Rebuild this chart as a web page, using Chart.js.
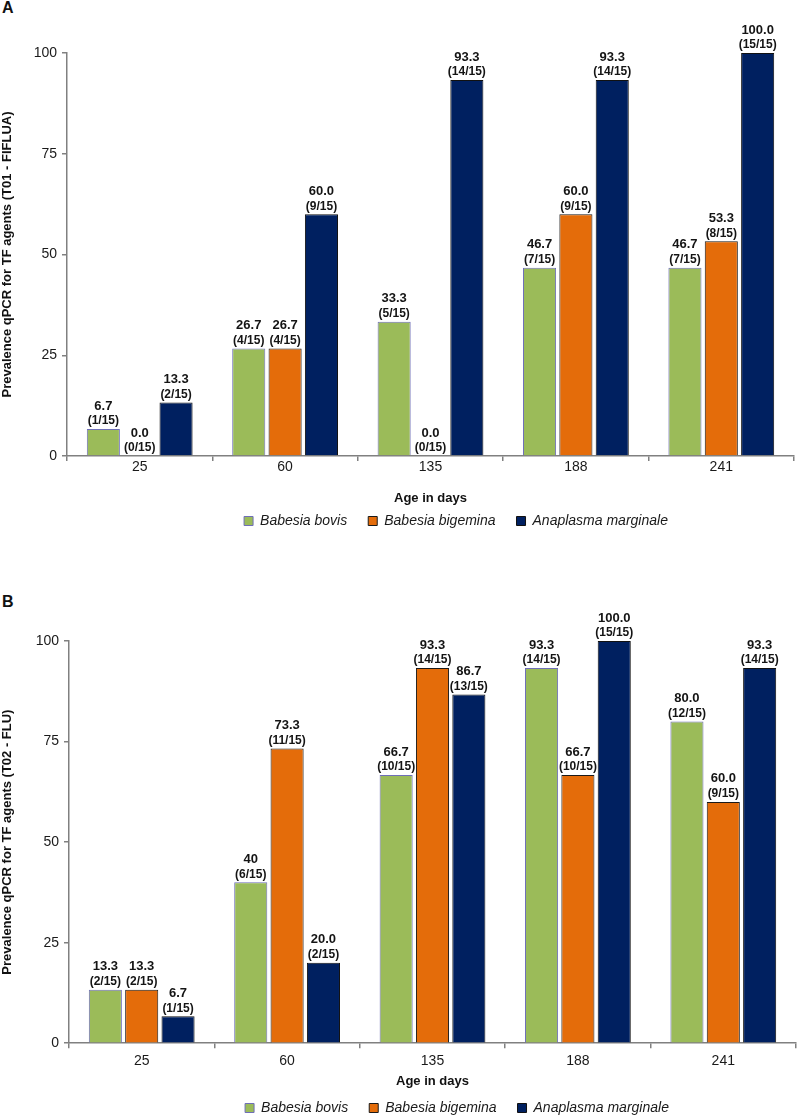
<!DOCTYPE html>
<html><head><meta charset="utf-8">
<script src="https://cdn.jsdelivr.net/npm/chart.js@4/dist/chart.umd.min.js"></script>
<style>
html,body{margin:0;padding:0;background:#fff}
body{width:797px;height:1115px;position:relative;overflow:hidden;font-family:"Liberation Sans",Arial,sans-serif}
.panel{position:absolute;left:0;width:797px}
.lbl{position:absolute;left:2px;font-weight:bold;font-size:16px;line-height:16px;color:#111}
</style></head><body>
<div class="lbl" style="top:0px">A</div>
<div class="panel" style="top:0;height:551px"><canvas id="cA"></canvas></div>
<div class="lbl" style="top:594px">B</div>
<div class="panel" style="top:575px;height:559px"><canvas id="cB"></canvas></div>
<script>
// ---- data ----
const categories = ['25', '60', '135', '188', '241'];
const seriesNames = ['Babesia bovis', 'Babesia bigemina', 'Anaplasma marginale'];
const TOTAL = 15;
const yTicks = [0, 25, 50, 75, 100];

// Panel A (T01 - FIFLUA)
const bovisA = [6.7, 26.7, 33.3, 46.7, 46.7];
const bigeminaA = [0.0, 26.7, 0.0, 60.0, 53.3];
const marginaleA = [13.3, 60.0, 93.3, 93.3, 100.0];
const bovisA_text = ['6.7', '26.7', '33.3', '46.7', '46.7'];
const bigeminaA_text = ['0.0', '26.7', '0.0', '60.0', '53.3'];
const marginaleA_text = ['13.3', '60.0', '93.3', '93.3', '100.0'];
const bovisA_pos = [1, 4, 5, 7, 7];
const bigeminaA_pos = [0, 4, 0, 9, 8];
const marginaleA_pos = [2, 9, 14, 14, 15];

// Panel B (T02 - FLU)
const bovisB = [13.3, 40, 66.7, 93.3, 80.0];
const bigeminaB = [13.3, 73.3, 93.3, 66.7, 60.0];
const marginaleB = [6.7, 20.0, 86.7, 100.0, 93.3];
const bovisB_text = ['13.3', '40', '66.7', '93.3', '80.0'];
const bigeminaB_text = ['13.3', '73.3', '93.3', '66.7', '60.0'];
const marginaleB_text = ['6.7', '20.0', '86.7', '100.0', '93.3'];
const bovisB_pos = [2, 6, 10, 14, 12];
const bigeminaB_pos = [2, 11, 14, 10, 9];
const marginaleB_pos = [1, 2, 13, 15, 14];

// ---- styles ----
const FONT = '"Liberation Sans", Arial, sans-serif';
const fills = ['#9BBB59', '#E46C0A', '#002060'];
const borders = ['#6F6FB8', '#1a1a1a', '#111111'];
const AXIS = '#808080';

const valueLabels = {
  id: 'valueLabels',
  afterDatasetsDraw(chart) {
    const ctx = chart.ctx;
    chart.data.datasets.forEach((ds, di) => {
      const meta = chart.getDatasetMeta(di);
      meta.data.forEach((bar, i) => {
        ctx.save();
        ctx.fillStyle = '#141414';
        ctx.textAlign = 'center';
        ctx.textBaseline = 'middle';
        ctx.font = 'bold 13px ' + FONT;
        ctx.fillText(ds.valueText[i], bar.x, bar.y - 23);
        ctx.font = 'bold 12px ' + FONT;
        ctx.fillText('(' + ds.positives[i] + '/' + TOTAL + ')', bar.x, bar.y - 8);
        ctx.restore();
      });
    });
  }
};

const legendShift = {
  id: 'legendShift',
  afterLayout(chart, args, opts) {
    const lg = chart.legend;
    if (!lg) return;
    lg.left += opts.dx; lg.right += opts.dx;
    lg.top += opts.dy; lg.bottom += opts.dy;
  }
};

function makeChart(id, vals, texts, pos, cfg) {
  const datasets = vals.map((v, k) => ({
    label: seriesNames[k],
    data: v,
    valueText: texts[k],
    positives: pos[k],
    backgroundColor: fills[k],
    borderColor: borders[k],
    borderWidth: 1,
    barPercentage: 0.91,
    categoryPercentage: 0.75
  }));
  return new Chart(document.getElementById(id), {
    type: 'bar',
    data: { labels: categories, datasets },
    plugins: [valueLabels, legendShift],
    options: {
      responsive: true,
      maintainAspectRatio: false,
      animation: false,
      layout: { padding: { top: cfg.top, right: cfg.right, left: 0, bottom: 0 } },
      plugins: {
        tooltip: { enabled: false },
        legend: {
          position: 'bottom',
          labels: {
            boxWidth: 9, boxHeight: 9, padding: 21,
            color: '#1a1a1a',
            font: { family: FONT, size: 14, style: 'italic' }
          }
        },
        legendShift: { dx: cfg.dx, dy: cfg.dy }
      },
      scales: {
        x: {
          grid: { display: true, drawOnChartArea: false, drawTicks: true, tickLength: 5, color: AXIS, lineWidth: 1.5, offset: true },
          border: { display: true, color: AXIS, width: 1.5 },
          ticks: { color: '#1a1a1a', padding: cfg.xPad, font: { family: FONT, size: 14 } },
          title: { display: true, text: 'Age in days', color: '#111', padding: { top: 0, bottom: 0 }, font: { family: FONT, size: 13, weight: 'bold' } },
          afterFit(s) { s.height = cfg.xH; }
        },
        y: {
          min: 0, max: 100,
          afterBuildTicks(s) { s.ticks = yTicks.map(v => ({ value: v })); },
          grid: { display: true, drawOnChartArea: false, drawTicks: true, tickLength: 5, color: AXIS, lineWidth: 1.5 },
          border: { display: true, color: AXIS, width: 1.5 },
          ticks: { color: '#1a1a1a', padding: 5, font: { family: FONT, size: 14 } },
          title: { display: true, text: cfg.yTitle, color: '#111', padding: { top: 0, bottom: 0 }, font: { family: FONT, size: 13, weight: 'bold' } },
          afterFit(s) { s.width = cfg.yW; }
        }
      }
    }
  });
}

makeChart('cA', [bovisA, bigeminaA, marginaleA], [bovisA_text, bigeminaA_text, marginaleA_text],
  [bovisA_pos, bigeminaA_pos, marginaleA_pos],
  { top: 53, right: 3, yW: 67, xH: 50, xPad: -2, dx: 59, dy: -13, yTitle: 'Prevalence qPCR for TF agents (T01 - FIFLUA)' });

makeChart('cB', [bovisB, bigeminaB, marginaleB], [bovisB_text, bigeminaB_text, marginaleB_text],
  [bovisB_pos, bigeminaB_pos, marginaleB_pos],
  { top: 66, right: 1, yW: 69, xH: 45.8, xPad: 5, dx: 59, dy: -9, yTitle: 'Prevalence qPCR for TF agents (T02 - FLU)' });
</script>
</body></html>
